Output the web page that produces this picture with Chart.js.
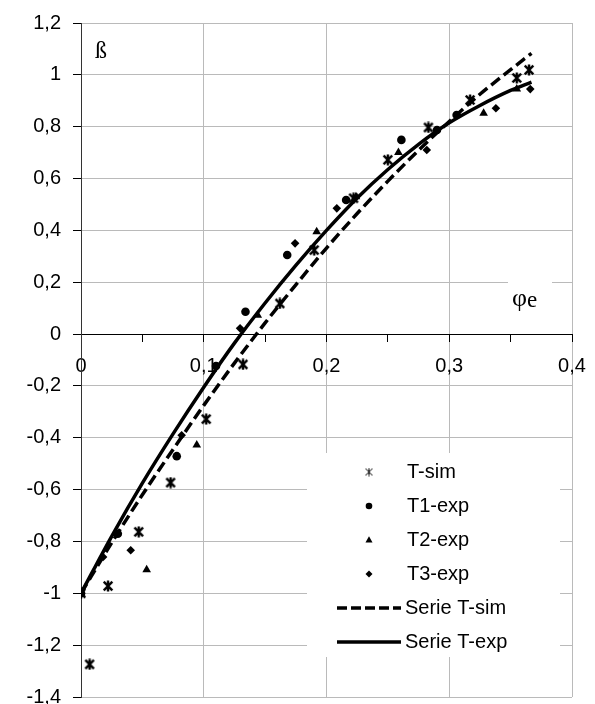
<!DOCTYPE html>
<html><head><meta charset="utf-8">
<style>html,body{margin:0;padding:0;overflow:hidden;background:#fff}
#wrap{position:relative;width:595px;height:704px}</style>
<script src="https://cdn.jsdelivr.net/npm/chart.js@4.4.0/dist/chart.umd.min.js"></script>
</head><body><div id="wrap"><canvas id="c"></canvas></div>
<script>
// ---- data ----
const xTickLabels = ['0', '0,1', '0,2', '0,3', '0,4'];
const yTickLabels = ['-1,4', '-1,2', '-1', '-0,8', '-0,6', '-0,4', '-0,2', '0', '0,2', '0,4', '0,6', '0,8', '1', '1,2'];
const seriesNames = ['T-sim', 'T1-exp', 'T2-exp', 'T3-exp', 'Serie T-sim', 'Serie T-exp'];

const tSimPhi  = [0, 0.007, 0.022, 0.047, 0.073, 0.102, 0.132, 0.162, 0.190, 0.222, 0.250, 0.283, 0.317, 0.355, 0.365];
const tSimBeta = [-1, -1.274, -0.972, -0.763, -0.573, -0.328, -0.117, 0.118, 0.324, 0.524, 0.672, 0.797, 0.903, 0.988, 1.019];

const t1Phi  = [0, 0.030, 0.078, 0.110, 0.134, 0.168, 0.216, 0.261, 0.290, 0.306];
const t1Beta = [-1, -0.77, -0.471, -0.123, 0.086, 0.305, 0.517, 0.749, 0.787, 0.845];

const t2Phi  = [0, 0.0535, 0.0943, 0.144, 0.192, 0.224, 0.2586, 0.328, 0.355];
const t2Beta = [-1, -0.909, -0.428, 0.073, 0.395, 0.53, 0.70, 0.852, 0.945];

const t3Phi  = [0, 0.018, 0.0405, 0.082, 0.1296, 0.1744, 0.2084, 0.2817, 0.338, 0.366];
const t3Beta = [-1, -0.86, -0.834, -0.39, 0.022, 0.35, 0.485, 0.71, 0.871, 0.945];

const curvePhi     = [0, 0.025, 0.05, 0.075, 0.1, 0.125, 0.15, 0.175, 0.2, 0.225, 0.25, 0.275, 0.3, 0.325, 0.35, 0.367];
const serieSimBeta = [-1, -0.805, -0.62, -0.445, -0.275, -0.112, 0.043, 0.19, 0.332, 0.465, 0.59, 0.709, 0.82, 0.925, 1.02, 1.083];
const serieExpBeta = [-1, -0.78, -0.575, -0.385, -0.205, -0.035, 0.12, 0.265, 0.40, 0.525, 0.635, 0.732, 0.815, 0.882, 0.94, 0.972];

// ---- helpers ----
const pts = (xs, ys) => xs.map((x, i) => ({x: x, y: ys[i]}));
function makeStar(size, lw) {
  const c = document.createElement('canvas');
  c.width = c.height = size;
  const g = c.getContext('2d');
  g.strokeStyle = '#000'; g.lineWidth = lw; g.lineCap = 'butt';
  const m = lw / 2 + 0.5, s = size;
  g.beginPath();
  g.moveTo(m, m); g.lineTo(s - m, s - m);
  g.moveTo(s - m, m); g.lineTo(m, s - m);
  g.moveTo(s / 2, 0.5); g.lineTo(s / 2, s - 0.5);
  g.stroke();
  return c;
}
const starBig = makeStar(12, 2.4);
const starSmall = makeStar(9, 1);

const gridColor = '#bababa';
const tickFont = {family: '"Liberation Sans", Arial, sans-serif', size: 20};

const overlay = {
  id: 'overlay',
  afterDraw(chart) {
    const ctx = chart.ctx;
    ctx.save();
    // white legend box
    ctx.fillStyle = '#fff';
    ctx.fillRect(307, 453, 253, 204);
    // white box behind axis label phi_e
    ctx.fillRect(508, 276, 44, 36);
    ctx.fillStyle = '#000';
    ctx.strokeStyle = '#000';
    ctx.font = '24px "Liberation Serif", "Times New Roman", serif';
    ctx.textBaseline = 'alphabetic';
    ctx.textAlign = 'left';
    ctx.fillText('ß', 95, 58);
    ctx.font = '26px "Liberation Serif", "Times New Roman", serif';
    ctx.fillText('φ', 512, 306);
    const fw = ctx.measureText('φ').width;
    ctx.font = '23px "Liberation Serif", "Times New Roman", serif';
    ctx.fillText('e', 512 + fw, 307);
    // legend
    ctx.font = '20px "Liberation Sans", Arial, sans-serif';
    ctx.textBaseline = 'middle';
    const mx = 369;
    for (let i = 0; i < seriesNames.length; i++) {
      const y = 472 + i * 34;
      ctx.setLineDash([]);
      if (i === 0) {
        ctx.drawImage(starSmall, mx - 4.5, y - 4.5);
      } else if (i === 1) {
        ctx.beginPath(); ctx.arc(mx, y, 3.3, 0, Math.PI * 2); ctx.fill();
      } else if (i === 2) {
        ctx.beginPath(); ctx.moveTo(mx, y - 3.8); ctx.lineTo(mx + 3.5, y + 2.6); ctx.lineTo(mx - 3.5, y + 2.6); ctx.closePath(); ctx.fill();
      } else if (i === 3) {
        ctx.beginPath(); ctx.moveTo(mx, y - 3.5); ctx.lineTo(mx + 3.5, y); ctx.lineTo(mx, y + 3.5); ctx.lineTo(mx - 3.5, y); ctx.closePath(); ctx.fill();
      } else {
        ctx.lineWidth = 3.5;
        ctx.setLineDash(i === 4 ? [10, 4] : []);
        ctx.beginPath(); ctx.moveTo(337, y); ctx.lineTo(401, y); ctx.stroke();
        ctx.setLineDash([]);
      }
      ctx.fillText(seriesNames[i], i >= 4 ? 405 : 407, y);
    }
    ctx.restore();
  }
};

new Chart(document.getElementById('c'), {
  type: 'scatter',
  data: {
    datasets: [
      {label: seriesNames[4], data: pts(curvePhi, serieSimBeta), showLine: true, borderColor: '#000', borderWidth: 3.5,
       borderDash: [11, 5], pointRadius: 0, cubicInterpolationMode: 'monotone', fill: false, order: 5},
      {label: seriesNames[5], data: pts(curvePhi, serieExpBeta), showLine: true, borderColor: '#000', borderWidth: 3.5,
       pointRadius: 0, cubicInterpolationMode: 'monotone', fill: false, order: 6},
      {label: seriesNames[0], data: pts(tSimPhi, tSimBeta), pointStyle: starBig, pointRadius: 6, order: 1},
      {label: seriesNames[1], data: pts(t1Phi, t1Beta), pointStyle: 'circle', pointRadius: 4.3,
       backgroundColor: '#000', borderColor: '#000', borderWidth: 0, order: 2},
      {label: seriesNames[2], data: pts(t2Phi, t2Beta), pointStyle: 'triangle', pointRadius: 5,
       backgroundColor: '#000', borderColor: '#000', borderWidth: 0, order: 3},
      {label: seriesNames[3], data: pts(t3Phi, t3Beta), pointStyle: 'rectRot', pointRadius: 4.3,
       backgroundColor: '#000', borderColor: '#000', borderWidth: 0, order: 4}
    ]
  },
  options: {
    responsive: true,
    maintainAspectRatio: false,
    animation: false,
    devicePixelRatio: 1,
    layout: {padding: {left: 0, right: 23, top: 23, bottom: 7}},
    plugins: {legend: {display: false}, tooltip: {enabled: false}},
    scales: {
      x: {
        type: 'linear',
        position: {y: 0},
        min: 0, max: 0.4,
        afterFit(s) { s.paddingLeft = 0; s.paddingRight = 0; },
        ticks: {
          stepSize: 0.05, autoSkip: false, maxRotation: 0, color: '#000', font: tickFont, padding: 13,
          callback: (v, i) => (i % 2 === 0 ? xTickLabels[i / 2] : '')
        },
        grid: {
          color: c => (c.index % 2 === 0 ? gridColor : 'rgba(0,0,0,0)'),
          tickColor: '#000', tickLength: 7, lineWidth: 1
        },
        border: {color: '#000', width: 1}
      },
      y: {
        type: 'linear',
        position: 'left',
        min: -1.4, max: 1.2,
        afterFit(s) { s.width = 81; s.paddingTop = 0; s.paddingBottom = 0; },
        ticks: {
          stepSize: 0.2, autoSkip: false, color: '#000', font: tickFont, padding: 12,
          callback: (v, i) => yTickLabels[i]
        },
        grid: {color: gridColor, tickColor: '#000', tickLength: 8, lineWidth: 1},
        border: {color: '#333', width: 1}
      }
    }
  },
  plugins: [overlay]
});
</script></body></html>
